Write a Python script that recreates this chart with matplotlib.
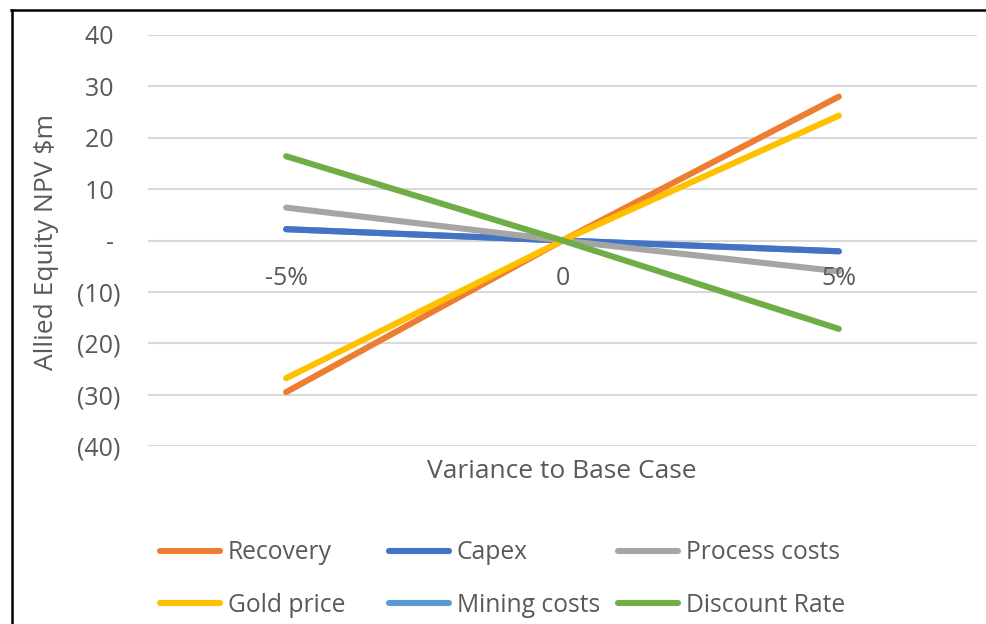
import matplotlib.pyplot as plt
from matplotlib.lines import Line2D

# sensitivity of equity NPV to +/-5% moves in each driver
variance = ['-5%', '0', '5%']
recovery = [-29.5, 0, 28.0]
capex = [2.2, 0, -2.1]
process_costs = [6.4, 0, -6.0]
gold_price = [-26.8, 0, 24.3]
mining_costs = [2.2, 0, -2.1]
discount_rate = [16.4, 0, -17.2]

names = ['Recovery', 'Capex', 'Process costs', 'Gold price', 'Mining costs', 'Discount Rate']
series = [recovery, capex, process_costs, gold_price, mining_costs, discount_rate]
colors = ['#ED7D31', '#4472C4', '#A5A5A5', '#FFC000', '#5B9BD5', '#70AD47']
zorders = [5, 4, 4, 5, 3, 6]

y_ticks = [40, 30, 20, 10, 0, -10, -20, -30, -40]
y_labels = ['40 ', '30 ', '20 ', '10 ', '- ', '(10)', '(20)', '(30)', '(40)']

txt = '#595959'
plt.rcParams['font.family'] = ['Open Sans', 'DejaVu Sans']
fs = 18

fig = plt.figure(figsize=(9.86, 6.24), dpi=100)
ax = fig.add_axes([148 / 986, 1 - 446 / 624, (977 - 148) / 986, (446 - 35) / 624])

x = list(range(len(variance)))
for vals, c, z in zip(series, colors, zorders):
    ax.plot(x, vals, color=c, lw=4.4, solid_capstyle='round', zorder=z)

ax.set_xlim(-0.5, 2.5)
ax.set_ylim(-40, 40)
ax.set_yticks(y_ticks)
ax.set_yticklabels(y_labels, fontsize=fs, color=txt)
ax.tick_params(axis='y', length=0, pad=20)
ax.set_xticks([])
ax.grid(axis='y', color='#D9D9D9', lw=1.5, zorder=0)
for s in ax.spines.values():
    s.set_visible(False)

# category labels sit just below the zero line
for xi, lab in zip(x, variance):
    ax.text(xi, -7.4, lab, ha='center', va='center', fontsize=fs, color=txt, zorder=7)

ax.set_ylabel('Allied Equity NPV $m', fontsize=fs + 1, color=txt)
ax.yaxis.set_label_coords((59 - 148) / 829, (446 - 242) / 411)
fig.text(562 / 986, 1 - 471 / 624, 'Variance to Base Case', ha='center', va='center',
         fontsize=fs + 1, color=txt)

# legend: three fixed-width columns, two rows each
col_x = [160, 389, 618]
for i, cx in enumerate(col_x):
    idx = [i, i + 3]
    handles = [Line2D([], [], color=colors[j], lw=4.4, solid_capstyle='round') for j in idx]
    fig.legend(handles, [names[j] for j in idx], loc='center left',
               bbox_to_anchor=(cx / 986, 1 - 579 / 624), frameon=False,
               fontsize=fs - 0.3, labelcolor=txt, handlelength=2.45, handletextpad=0.3,
               labelspacing=1.12, borderpad=0, borderaxespad=0)

# chart frame
fig.add_artist(Line2D([11 / 986, 1], [1 - 10 / 624] * 2, color='black', lw=1.8,
                      transform=fig.transFigure))
fig.add_artist(Line2D([12 / 986] * 2, [0, 1 - 10 / 624], color='black', lw=1.8,
                      transform=fig.transFigure))

fig.savefig('out.png', dpi=100)
